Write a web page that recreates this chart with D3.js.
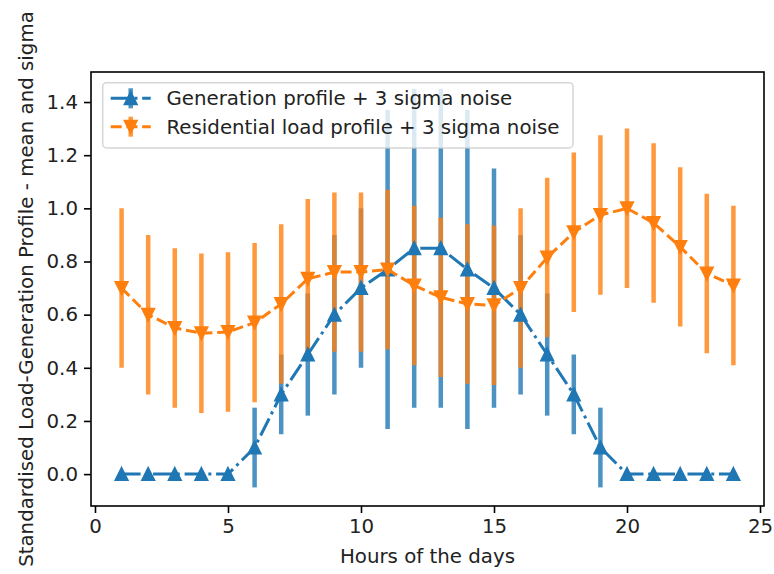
<!DOCTYPE html>
<html>
<head>
<meta charset="utf-8">
<script src="https://cdn.jsdelivr.net/npm/d3@7"></script>
<style>
  body { margin: 0; background: #fff; }
  text { font-family: "DejaVu Sans", sans-serif; fill: #222; }
</style>
</head>
<body>
<div class="chart"></div>
<script>
// hours on the x axis
var hours = [1, 2, 3, 4, 5, 6, 7, 8, 9, 10, 11, 12, 13, 14, 15, 16, 17, 18, 19, 20, 21, 22, 23, 24];

// generation profile: mean and 3 sigma
var genMean = [0, 0, 0, 0, 0, 0.1, 0.3, 0.45, 0.6, 0.7, 0.77, 0.85, 0.85, 0.77, 0.7, 0.6, 0.45, 0.3, 0.1, 0, 0, 0, 0, 0];
var genErr = [0, 0, 0, 0, 0, 0.15, 0.15, 0.23, 0.3, 0.3, 0.6, 0.6, 0.6, 0.6, 0.45, 0.3, 0.23, 0.15, 0.15, 0, 0, 0, 0, 0];

// residential load profile: mean and 3 sigma
var resMean = [0.70, 0.60, 0.55, 0.53, 0.535, 0.57, 0.64, 0.735, 0.76, 0.76, 0.77, 0.71, 0.665, 0.64, 0.635, 0.70, 0.815, 0.91, 0.975, 1.0, 0.945, 0.855, 0.755, 0.71];
var resErr = [0.3, 0.3, 0.3, 0.3, 0.3, 0.3, 0.3, 0.3, 0.3, 0.3, 0.3, 0.3, 0.3, 0.3, 0.3, 0.3, 0.3, 0.3, 0.3, 0.3, 0.3, 0.3, 0.3, 0.3];

var xTicks = [0, 5, 10, 15, 20, 25];
var yTicks = [0.0, 0.2, 0.4, 0.6, 0.8, 1.0, 1.2, 1.4];

var seriesNames = ["Generation profile + 3 sigma noise", "Residential load profile + 3 sigma noise"];

var width = 774, height = 574,
    fs = 19.8;

// plot frame (not called "top": that name belongs to window)
var m = { left: 91, right: 764, top: 72, bottom: 506 };

var x = d3.scaleLinear().domain([-0.15, 25.15]).range([m.left, m.right]);
var y = d3.scaleLinear().domain([-0.12, 1.513]).range([m.bottom, m.top]);

var blue = "#1f77b4", orange = "#ff7f0e";

var svg = d3.select(".chart")
  .append("svg")
    .attr("width", width)
    .attr("height", height);

svg.append("defs").append("clipPath")
    .attr("id", "plot")
  .append("rect")
    .attr("x", m.left).attr("y", m.top)
    .attr("width", m.right - m.left).attr("height", m.bottom - m.top);

var plot = svg.append("g").attr("clip-path", "url(#plot)");

var series = [
  { mean: genMean, err: genErr, color: blue, dash: "19,4.75,3,4.75", up: true },
  { mean: resMean, err: resErr, color: orange, dash: "11,4.75", up: false }
];

// triangle marker, pointing up or down
function tri(up) {
  var s = 6;
  return up ? "M0," + (-s) + "L" + s + "," + s + "L" + (-s) + "," + s + "Z"
            : "M0," + s + "L" + s + "," + (-s) + "L" + (-s) + "," + (-s) + "Z";
}

// error bars go first (under all the lines)
series.forEach(function(s) {
  plot.append("g").selectAll("line")
    .data(hours.filter(function(h, i) { return s.err[i] > 0; }))
    .enter().append("line")
      .attr("x1", function(h) { return x(h); })
      .attr("x2", function(h) { return x(h); })
      .attr("y1", function(h) { var i = hours.indexOf(h); return y(s.mean[i] - s.err[i]); })
      .attr("y2", function(h) { var i = hours.indexOf(h); return y(s.mean[i] + s.err[i]); })
      .style("stroke", s.color)
      .style("stroke-width", 4.5)
      .style("stroke-opacity", 0.8);
});

// then the mean lines with markers
series.forEach(function(s) {
  var line = d3.line()
    .x(function(d, i) { return x(hours[i]); })
    .y(function(d) { return y(d); });

  plot.append("path")
    .datum(s.mean)
    .attr("d", line)
    .style("fill", "none")
    .style("stroke", s.color)
    .style("stroke-width", 3)
    .style("stroke-dasharray", s.dash);

  plot.append("g").selectAll("path")
    .data(s.mean)
    .enter().append("path")
      .attr("transform", function(d, i) { return "translate(" + x(hours[i]) + "," + y(d) + ")"; })
      .attr("d", tri(s.up))
      .style("fill", s.color)
      .style("stroke", s.color)
      .style("stroke-width", 2);
});

// axes frame
svg.append("rect")
  .attr("x", m.left).attr("y", m.top)
  .attr("width", m.right - m.left).attr("height", m.bottom - m.top)
  .style("fill", "none")
  .style("stroke", "#000")
  .style("stroke-width", 1.6);

// x axis
var xAxis = svg.append("g")
  .attr("transform", "translate(0," + m.bottom + ")")
  .call(d3.axisBottom(x).tickValues(xTicks).tickSize(7).tickPadding(6).tickFormat(d3.format("d")));
xAxis.select(".domain").remove();
xAxis.selectAll("line").style("stroke", "#000").style("stroke-width", 1.6);
xAxis.selectAll("text").style("font-size", fs + "px").style("font-family", "DejaVu Sans").style("fill", "#222");

// y axis
var yAxis = svg.append("g")
  .attr("transform", "translate(" + m.left + ",0)")
  .call(d3.axisLeft(y).tickValues(yTicks).tickSize(7).tickPadding(6).tickFormat(d3.format(".1f")));
yAxis.select(".domain").remove();
yAxis.selectAll("line").style("stroke", "#000").style("stroke-width", 1.6);
yAxis.selectAll("text").style("font-size", fs + "px").style("font-family", "DejaVu Sans").style("fill", "#222");

// axis labels
svg.append("text")
  .attr("x", (m.left + m.right) / 2)
  .attr("y", 563)
  .attr("text-anchor", "middle")
  .style("font-size", fs + "px")
  .text("Hours of the days");

svg.append("text")
  .attr("transform", "translate(33," + (m.top + m.bottom) / 2 + ") rotate(-90)")
  .attr("text-anchor", "middle")
  .style("font-size", fs + "px")
  .text("Standardised Load-Generation Profile - mean and sigma");

// legend
var legend = svg.append("g");
legend.append("rect")
  .attr("x", 102.7).attr("y", 82.7)
  .attr("width", 470.3).attr("height", 65.3)
  .attr("rx", 4)
  .style("fill", "#fff")
  .style("fill-opacity", 0.8)
  .style("stroke", "#ccc")
  .style("stroke-opacity", 0.8)
  .style("stroke-width", 1.5);

var rowY = [98.3, 126.7];
series.forEach(function(s, i) {
  var cy = rowY[i];
  legend.append("line")
    .attr("x1", 130.7).attr("x2", 130.7)
    .attr("y1", cy - 10).attr("y2", cy + 10)
    .style("stroke", s.color)
    .style("stroke-width", 4.5)
    .style("stroke-opacity", 0.8);
  legend.append("line")
    .attr("x1", 110.7).attr("x2", 150.7)
    .attr("y1", cy).attr("y2", cy)
    .style("stroke", s.color)
    .style("stroke-width", 3)
    .style("stroke-dasharray", s.dash);
  legend.append("path")
    .attr("transform", "translate(130.7," + cy + ")")
    .attr("d", tri(s.up))
    .style("fill", s.color)
    .style("stroke", s.color)
    .style("stroke-width", 2);
  legend.append("text")
    .attr("x", 166.5)
    .attr("y", cy + 7)
    .style("font-size", fs + "px")
    .text(seriesNames[i]);
});
</script>
</body>
</html>
